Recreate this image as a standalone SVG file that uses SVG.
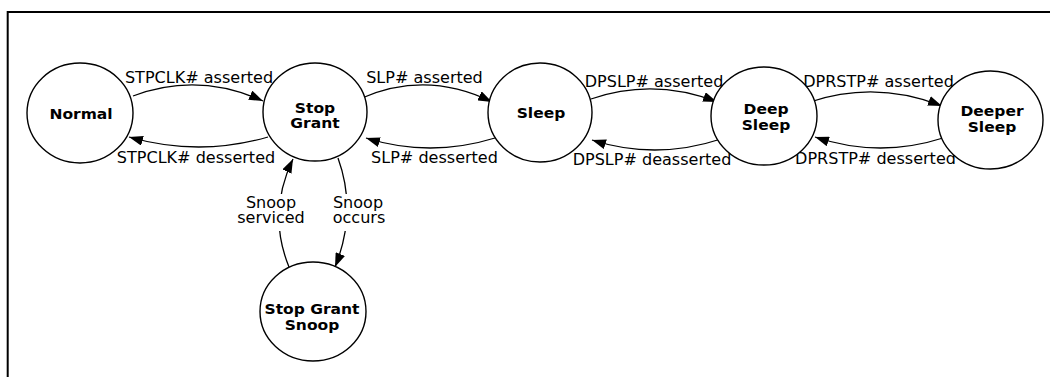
<svg xmlns="http://www.w3.org/2000/svg" width="1050" height="377" viewBox="0 0 1050 377">
<style>
.frame{fill:none;stroke:#000;stroke-width:2}
.state{fill:#fff;stroke:#000;stroke-width:1.4}
.name{font-family:"DejaVu Sans",Verdana,sans-serif;font-weight:bold;font-size:14.5px;text-anchor:middle;fill:#000}
.lbl{font-family:"DejaVu Sans",Verdana,sans-serif;font-size:15px;text-anchor:middle;fill:#000}
.edge{fill:none;stroke:#000;stroke-width:1.3;marker-end:url(#arr)}
.bg{fill:#fff;stroke:none}
</style>
<defs>
<marker id="arr" markerUnits="userSpaceOnUse" markerWidth="15" markerHeight="10" refX="14" refY="5" orient="auto">
<path d="M0,0 L14,5 L0,10 z" fill="#000"/>
</marker>
</defs>
<rect width="1050" height="377" fill="#fff"/>
<path class="frame" d="M7.7,377 V12 H1050"/>

<g id="connectors">
<path class="edge" d="M133,96 Q198,71.5 263,101"/>
<path class="edge" d="M268,137 Q199,157 129,137"/>
<path class="edge" d="M362,98 Q427,70 492,102"/>
<path class="edge" d="M495,138 Q430,158 366,138"/>
<path class="edge" d="M591,99 Q654,77.5 717,102"/>
<path class="edge" d="M721,139 Q656,160.5 592,140"/>
<path class="edge" d="M810,102 Q876,80 942,106"/>
<path class="edge" d="M943,138 Q879,158.5 815,137"/>
<path class="edge" d="M289,267 Q267,213 293,159"/>
<path class="edge" d="M338,158 Q357.5,212 335,267"/>
</g>

<g id="edge-labels">
<text class="lbl" transform="translate(199,83) scale(1.07,1)">STPCLK# asserted</text>
<text class="lbl" transform="translate(196,163) scale(1.07,1)">STPCLK# desserted</text>
<text class="lbl" transform="translate(424.5,83) scale(1.07,1)">SLP# asserted</text>
<text class="lbl" transform="translate(434.5,163) scale(1.07,1)">SLP# desserted</text>
<text class="lbl" transform="translate(654,87) scale(1.07,1)">DPSLP# asserted</text>
<text class="lbl" transform="translate(652,165) scale(1.07,1)">DPSLP# deasserted</text>
<text class="lbl" transform="translate(878.5,87) scale(1.07,1)">DPRSTP# asserted</text>
<text class="lbl" transform="translate(875.5,164) scale(1.07,1)">DPRSTP# desserted</text>
<rect class="bg" x="238" y="194" width="67" height="37"/>
<text class="lbl" transform="translate(271,208) scale(1.07,1)">Snoop</text>
<text class="lbl" transform="translate(271,223) scale(1.07,1)">serviced</text>
<rect class="bg" x="331" y="194" width="54" height="37"/>
<text class="lbl" transform="translate(358,208) scale(1.07,1)">Snoop</text>
<text class="lbl" transform="translate(359,223) scale(1.07,1)">occurs</text>
</g>

<g id="normal">
<ellipse class="state" cx="80" cy="113" rx="53" ry="50"/>
<text class="name" transform="translate(81,119) scale(1.07,1)">Normal</text>
</g>
<g id="stop-grant">
<ellipse class="state" cx="315" cy="112" rx="52" ry="49"/>
<text class="name" transform="translate(315,113) scale(1.07,1)">Stop</text>
<text class="name" transform="translate(315,128) scale(1.07,1)">Grant</text>
</g>
<g id="sleep">
<ellipse class="state" cx="540" cy="112.5" rx="52" ry="49.5"/>
<text class="name" transform="translate(541,118) scale(1.07,1)">Sleep</text>
</g>
<g id="deep-sleep">
<ellipse class="state" cx="764" cy="116" rx="53" ry="49"/>
<text class="name" transform="translate(766,114) scale(1.07,1)">Deep</text>
<text class="name" transform="translate(766,130) scale(1.07,1)">Sleep</text>
</g>
<g id="deeper-sleep">
<ellipse class="state" cx="990.5" cy="120" rx="52.5" ry="49"/>
<text class="name" transform="translate(992,116) scale(1.07,1)">Deeper</text>
<text class="name" transform="translate(992,132) scale(1.07,1)">Sleep</text>
</g>
<g id="stop-grant-snoop">
<ellipse class="state" cx="313" cy="311.5" rx="53" ry="49.5"/>
<text class="name" transform="translate(312,314) scale(1.07,1)">Stop Grant</text>
<text class="name" transform="translate(312,330) scale(1.07,1)">Snoop</text>
</g>
</svg>
